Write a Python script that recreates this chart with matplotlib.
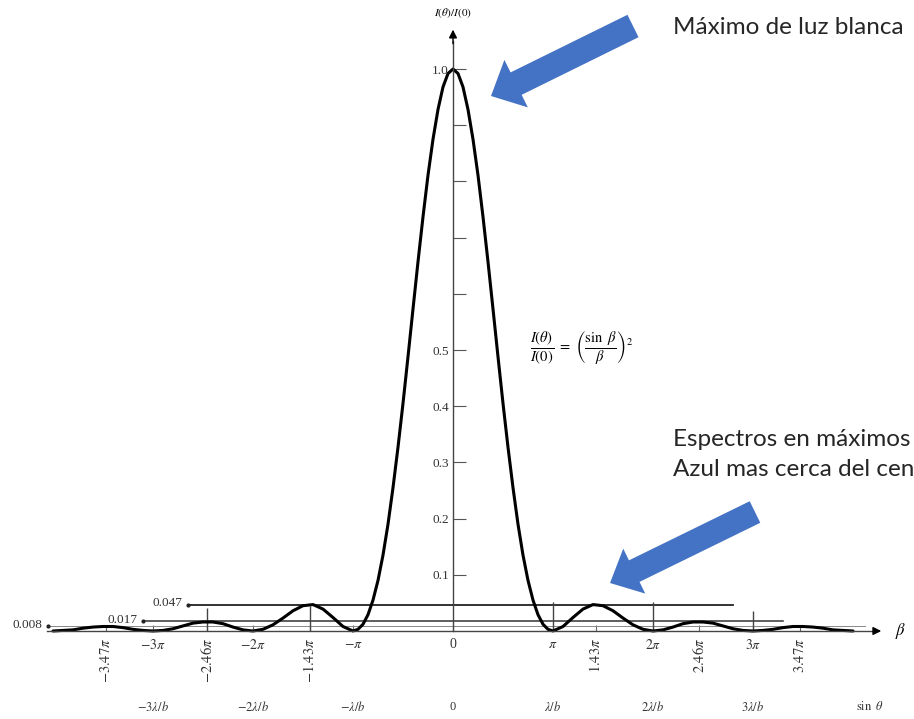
import matplotlib
matplotlib.use("Agg")
import matplotlib.pyplot as plt
from matplotlib.patches import FancyArrow

plt.rcParams['font.family'] = ['Liberation Serif', 'DejaVu Serif']
plt.rcParams['mathtext.fontset'] = 'stix'

# curve: beta in units of pi, I(theta)/I(0)
beta = [-4.0, -3.9, -3.8, -3.7, -3.6, -3.5, -3.4, -3.3, -3.2, -3.1,
        -3.0, -2.9, -2.8, -2.7, -2.6, -2.5, -2.4, -2.3, -2.2, -2.1,
        -2.0, -1.9, -1.8, -1.7, -1.6, -1.5, -1.4, -1.3, -1.2, -1.1,
        -1.0, -0.95, -0.9, -0.85, -0.8, -0.75, -0.7, -0.65, -0.6, -0.55,
        -0.5, -0.45, -0.4, -0.35, -0.3, -0.25, -0.2, -0.15, -0.1, -0.05,
        0.0, 0.05, 0.1, 0.15, 0.2, 0.25, 0.3, 0.35, 0.4, 0.45,
        0.5, 0.55, 0.6, 0.65, 0.7, 0.75, 0.8, 0.85, 0.9, 0.95,
        1.0, 1.1, 1.2, 1.3, 1.4, 1.5, 1.6, 1.7, 1.8, 1.9,
        2.0, 2.1, 2.2, 2.3, 2.4, 2.5, 2.6, 2.7, 2.8, 2.9,
        3.0, 3.1, 3.2, 3.3, 3.4, 3.5, 3.6, 3.7, 3.8, 3.9, 4.0]
intensity = [0.000, 0.001, 0.002, 0.005, 0.007, 0.008, 0.008, 0.006, 0.003, 0.001,
             0.000, 0.001, 0.004, 0.009, 0.014, 0.016, 0.016, 0.013, 0.007, 0.002,
             0.000, 0.003, 0.011, 0.023, 0.036, 0.045, 0.047, 0.039, 0.024, 0.008,
             0.000, 0.003, 0.012, 0.029, 0.055, 0.090, 0.135, 0.190, 0.255, 0.327,
             0.405, 0.488, 0.573, 0.657, 0.737, 0.811, 0.875, 0.928, 0.968, 0.992,
             1.000, 0.992, 0.968, 0.928, 0.875, 0.811, 0.737, 0.657, 0.573, 0.488,
             0.405, 0.327, 0.255, 0.190, 0.135, 0.090, 0.055, 0.029, 0.012, 0.003,
             0.000, 0.008, 0.024, 0.039, 0.047, 0.045, 0.036, 0.023, 0.011, 0.003,
             0.000, 0.002, 0.007, 0.013, 0.016, 0.016, 0.014, 0.009, 0.004, 0.001,
             0.000, 0.001, 0.003, 0.006, 0.008, 0.008, 0.007, 0.005, 0.002, 0.001, 0.000]

# secondary maxima levels and the guide lines drawn at them
max_levels = [0.047, 0.017, 0.008]
max_labels = ['0.047', '0.017', '0.008']
level_start = [-2.65, -3.10, -4.05]
level_end = [2.80, 3.30, 4.12]

# axis ticks
int_pos = [-3, -2, -1, 0, 1, 2, 3]
int_labels = [r'$-3\pi$', r'$-2\pi$', r'$-\pi$', '0', r'$\pi$', r'$2\pi$', r'$3\pi$']
max_pos = [-3.47, -2.46, -1.43, 1.43, 2.46, 3.47]
max_pos_labels = [r'$-3.47\pi$', r'$-2.46\pi$', r'$-1.43\pi$',
                  r'$1.43\pi$', r'$2.46\pi$', r'$3.47\pi$']
sin_labels = [r'$-3\lambda/b$', r'$-2\lambda/b$', r'$-\lambda/b$', '0',
              r'$\lambda/b$', r'$2\lambda/b$', r'$3\lambda/b$']
y_ticks = [0.1, 0.2, 0.3, 0.4, 0.5, 0.6, 0.7, 0.8, 0.9, 1.0]
y_labels = ['0.1', '0.2', '0.3', '0.4', '0.5', '', '', '', '', '1.0']
guide_pos = [-2.46, -1.43, 1, 2, 3]
guide_top = [0.041, 0.045, 0.052, 0.052, 0.036]

fig = plt.figure(figsize=(9.14, 7.19), dpi=100)
ax = fig.add_axes([0, 0, 1, 1])
ax.set_xlim(-4.53, 4.61)
ax.set_ylim(-0.1566, 1.1228)
ax.patch.set_alpha(0)

for s in ['top', 'right']:
    ax.spines[s].set_visible(False)
ax.spines['left'].set_position(('data', 0))
ax.spines['bottom'].set_position(('data', 0))
ax.spines['left'].set_bounds(0, 1.05)
ax.spines['bottom'].set_bounds(-4.06, 4.25)
ax.spines['left'].set_color('#444444')
ax.spines['bottom'].set_color('#444444')
ax.spines['left'].set_linewidth(1.0)
ax.spines['bottom'].set_linewidth(1.0)

# axis arrow heads
ax.annotate('', xy=(0, 1.075), xytext=(0, 1.04),
            arrowprops=dict(arrowstyle='-|>', color='black', lw=1, mutation_scale=12))
ax.annotate('', xy=(4.31, 0), xytext=(4.2, 0),
            arrowprops=dict(arrowstyle='-|>', color='black', lw=1, mutation_scale=12))

ax.set_yticks(y_ticks, y_labels)
ax.tick_params(axis='y', direction='in', length=9, width=0.8, color='#555555',
               pad=3, labelsize=9.5, labelcolor='#333333')

ax.set_xticks(int_pos, int_labels)
ax.set_xticks(max_pos, max_pos_labels, minor=True)
ax.tick_params(axis='x', which='major', direction='in', length=4, width=0.8,
               color='#666666', pad=5, labelsize=10, labelcolor='#333333')
ax.tick_params(axis='x', which='minor', direction='in', length=4, width=0.8,
               color='#666666', pad=5, labelsize=10.5, labelcolor='#333333',
               labelrotation=90)

# horizontal lines for secondary maxima
lw_levels = [1.3, 1.1, 0.7]
col_levels = ['#222222', '#333333', '#888888']
for lv, lb, x0, x1, lw, c in zip(max_levels, max_labels, level_start, level_end,
                                 lw_levels, col_levels):
    ax.plot([x0, x1], [lv, lv], color=c, lw=lw)
    ax.plot([x0], [lv], marker='o', ms=2, color='#222222')
    ax.text(x0 - 0.06, lv + 0.002, lb, ha='right', va='center', fontsize=9.5,
            color='#333333')

ax.vlines(guide_pos, 0, guide_top, color='#444444', lw=1)

ax.plot(beta, intensity, color='black', lw=2.2, solid_joinstyle='round',
        solid_capstyle='round')

ax.text(0, 1.10, r'$I(\theta)/I(0)$', ha='center', va='center', fontsize=8)
ax.text(4.42, 0, r'$\beta$', ha='left', va='center', fontsize=12)
ax.text(0.77, 0.505,
        r'$\dfrac{I(\theta)}{I(0)}\ =\ \left(\dfrac{\sin\ \beta}{\beta}\right)^2$',
        ha='left', va='center', fontsize=10.5)

for p, lab in zip(int_pos, sin_labels):
    ax.text(p, -0.135, lab, ha='center', va='center', fontsize=9, color='#333333')
ax.text(4.17, -0.135, r'$\sin\ \theta$', ha='center', va='center', fontsize=9,
        color='#333333')

# overlay in pixel units for the slide annotations
ov = fig.add_axes([0, 0, 1, 1])
ov.set_xlim(0, 914)
ov.set_ylim(719, 0)
ov.axis('off')
ov.patch.set_alpha(0)

blue = '#4472C4'
ov.add_patch(FancyArrow(633, 26, -142, 70, width=25, head_width=53, head_length=28,
                        length_includes_head=True, color=blue, lw=0))
ov.add_patch(FancyArrow(755, 512, -145, 71, width=24, head_width=50, head_length=27,
                        length_includes_head=True, color=blue, lw=0))

txt_kw = dict(fontsize=17.5, family=['Lato', 'DejaVu Sans'], color='#262626',
              ha='left', va='center')
ov.text(673, 28, 'Máximo de luz blanca', **txt_kw)
ov.text(673, 440, 'Espectros en máximos', **txt_kw)
ov.text(673, 470, 'Azul mas cerca del cen', **txt_kw)

fig.savefig('out.png', dpi=100, facecolor='white')
